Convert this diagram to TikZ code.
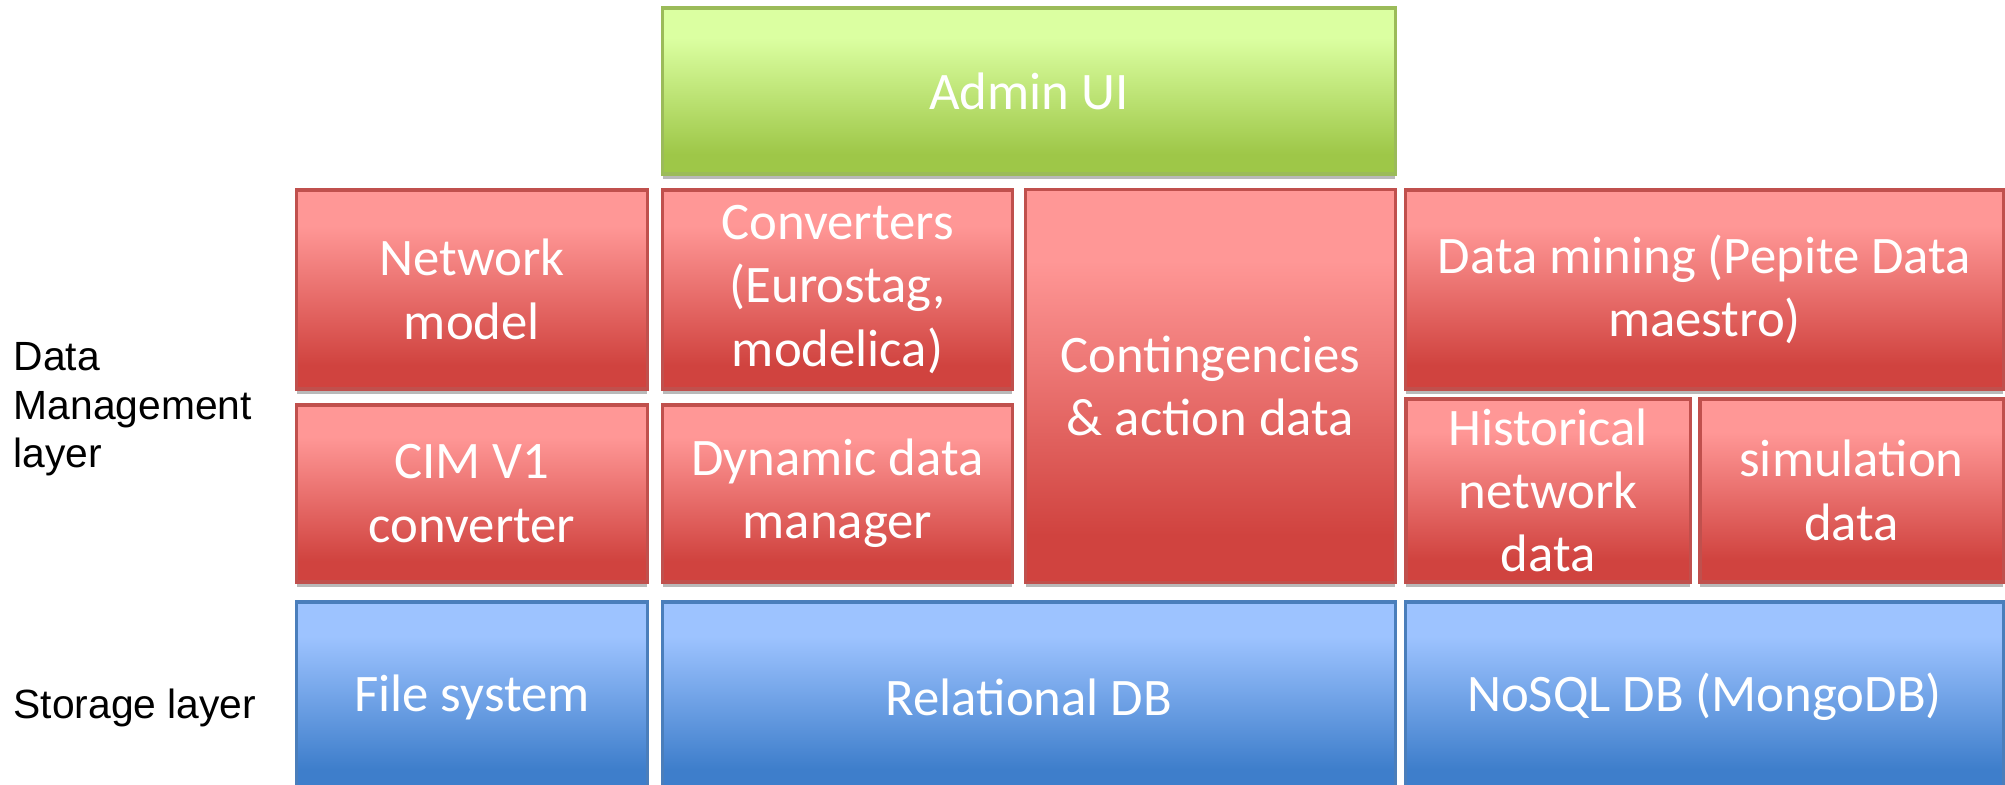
\documentclass[tikz,border=0pt]{standalone}
\usepackage{fontspec}
\setmainfont{Carlito}
\newfontfamily\labelfont{Liberation Sans}
\usetikzlibrary{shadows}

\definecolor{redtop}{RGB}{255,151,150}
\definecolor{redbot}{RGB}{208,67,63}
\definecolor{redline}{RGB}{192,80,77}
\definecolor{bluetop}{RGB}{157,195,255}
\definecolor{bluebot}{RGB}{62,126,203}
\definecolor{blueline}{RGB}{74,126,187}
\definecolor{greentop}{RGB}{219,255,161}
\definecolor{greenbot}{RGB}{158,199,72}
\definecolor{greenline}{RGB}{155,187,89}

\pgfdeclareverticalshading{redfill}{100bp}{color(0bp)=(redbot); color(31bp)=(redbot); color(66bp)=(redtop); color(100bp)=(redtop)}
\pgfdeclareverticalshading{bluefill}{100bp}{color(0bp)=(bluebot); color(31bp)=(bluebot); color(66bp)=(bluetop); color(100bp)=(bluetop)}
\pgfdeclareverticalshading{greenfill}{100bp}{color(0bp)=(greenbot); color(31bp)=(greenbot); color(66bp)=(greentop); color(100bp)=(greentop)}

\tikzset{
    blk/.style={rectangle, inner sep=0pt, outer sep=0pt, line width=0.9pt, text=white, align=center,
        font=\fontsize{15}{18}\selectfont,
        drop shadow={shadow xshift=0pt, shadow yshift=-1.3pt, opacity=0.55, fill=gray}},
    redbox/.style={blk, draw=redline, shading=redfill},
    bluebox/.style={blk, draw=blueline, shading=bluefill},
    greenbox/.style={blk, draw=greenline, shading=greenfill},
    layer/.style={inner sep=0pt, align=left, font=\labelfont\fontsize{11.6}{13.8}\selectfont}
}

\begin{document}
\begin{tikzpicture}[x=0.01cm, y=-0.01cm]
    \useasboundingbox (0, 0) rectangle (2005, 785);

    \node[greenbox, minimum width=7.32cm, minimum height=1.66cm] (admin) at (1029, 91) {Admin UI};

    \node[redbox, minimum width=3.5cm, minimum height=1.99cm] (netmodel) at (472, 289.5) {Network\\model};
    \node[redbox, minimum width=3.49cm, minimum height=1.99cm] (conv) at (837.5, 289.5) {Converters\\(Eurostag,\\modelica)};
    \node[redbox, minimum width=3.69cm, minimum height=3.92cm] (conting) at (1210.5, 386) {Contingencies\\\& action data};
    \node[redbox, minimum width=5.97cm, minimum height=1.99cm] (mining) at (1704.5, 289.5) {Data mining (Pepite Data\\maestro)};
    \node[redbox, minimum width=3.5cm, minimum height=1.77cm] (cim) at (472, 493.5) {CIM V1\\converter};
    \node[redbox, minimum width=3.49cm, minimum height=1.77cm] (dynmgr) at (837.5, 493.5) {Dynamic data\\manager};
    \node[redbox, minimum width=2.84cm, minimum height=1.83cm] (hist) at (1548, 490.5) {Historical\\network\\data};
    \node[redbox, minimum width=3.03cm, minimum height=1.83cm] (sim) at (1851.5, 490.5) {simulation\\data};

    \node[bluebox, minimum width=3.5cm, minimum height=1.9cm] (files) at (472, 697) {File system};
    \node[bluebox, minimum width=7.32cm, minimum height=1.9cm] (reldb) at (1029, 697) {Relational DB};
    \node[bluebox, minimum width=5.97cm, minimum height=1.9cm] (nosql) at (1704.5, 697) {NoSQL DB (MongoDB)};

    \node[layer, anchor=north west] (dmlayer) at (13, 342) {Data\\Management\\layer};
    \node[layer, anchor=base west] (stlayer) at (13, 718) {Storage layer};
\end{tikzpicture}
\end{document}
